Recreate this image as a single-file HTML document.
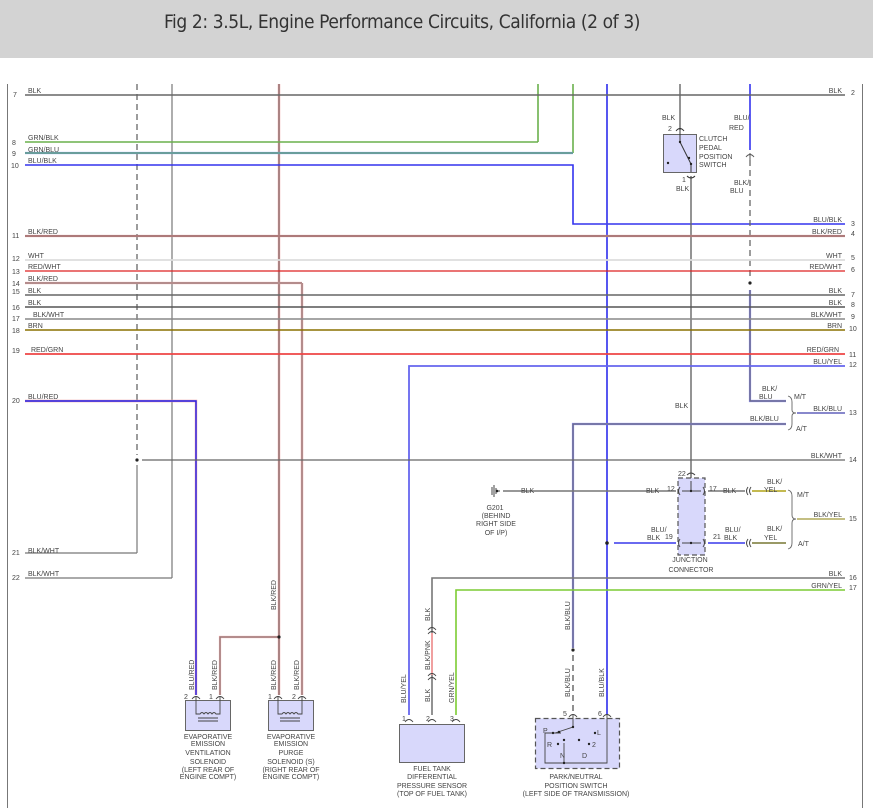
<!DOCTYPE html>
<html><head><meta charset="utf-8"><style>
html,body{margin:0;padding:0;background:#fff;}
#hd{position:absolute;left:0;top:0;width:873px;height:58px;background:#d3d3d3;}
#hd div{position:absolute;left:164px;top:11px;font:19px "DejaVu Sans Condensed","Liberation Sans Narrow","Liberation Sans",sans-serif;color:#333;letter-spacing:-0.4px;white-space:nowrap;}
svg{position:absolute;left:0;top:0;}
text{font-family:"Liberation Sans",sans-serif;font-size:7px;fill:#444;}
.n{font-size:7px;fill:#555;}
</style></head><body>
<div id="hd"><div>Fig 2: 3.5L, Engine Performance Circuits, California (2 of 3)</div></div>
<svg width="873" height="808" viewBox="0 0 873 808" fill="none">
<line x1="7.5" y1="84" x2="7.5" y2="808" stroke="#777"/>
<line x1="862.5" y1="84" x2="862.5" y2="808" stroke="#777"/>

<line x1="137" y1="84" x2="137" y2="455" stroke="#666" stroke-width="1.3" stroke-dasharray="6,4"/>
<line x1="137" y1="465" x2="137" y2="553" stroke="#777" stroke-width="1.2"/>
<circle cx="137" cy="460" r="1.6" fill="#222"/>
<line x1="172" y1="84" x2="172" y2="578" stroke="#777" stroke-width="1.2"/>
<line x1="279" y1="84" x2="279" y2="695" stroke="#f0a0a0" stroke-width="2.4"/>
<line x1="279" y1="84" x2="279" y2="695" stroke="#666" stroke-width="1"/>
<line x1="302" y1="283" x2="302" y2="695" stroke="#f0a0a0" stroke-width="2.4"/>
<line x1="302" y1="283" x2="302" y2="695" stroke="#777" stroke-width="1"/>
<line x1="538" y1="84" x2="538" y2="142" stroke="#6ab04c" stroke-width="1.6"/>
<line x1="573" y1="84" x2="573" y2="153" stroke="#6ab04c" stroke-width="1.6"/>
<polyline points="25,165 573,165 573,224 845,224" stroke="#3333ee" stroke-width="1.6"/>
<line x1="607" y1="84" x2="607" y2="715" stroke="#4444ee" stroke-width="1.8"/>
<line x1="680" y1="84" x2="680" y2="130" stroke="#666" stroke-width="1.4"/>
<line x1="691" y1="176" x2="691" y2="478" stroke="#666" stroke-width="1.4"/>
<line x1="750" y1="84" x2="750" y2="150" stroke="#3333ee" stroke-width="1.6"/>
<line x1="750" y1="160" x2="750" y2="280" stroke="#666" stroke-width="1.3" stroke-dasharray="6,4"/>
<circle cx="750" cy="283" r="1.6" fill="#222"/>
<polyline points="750,290 750,401 786,401" stroke="#8888ee" stroke-width="2.2"/>
<polyline points="750,290 750,401 786,401" stroke="#666" stroke-width="1"/>

<line x1="25" y1="95" x2="845" y2="95" stroke="#666" stroke-width="1.4"/>
<line x1="25" y1="142" x2="538" y2="142" stroke="#6ab04c" stroke-width="1.6"/>
<line x1="25" y1="153" x2="573" y2="153" stroke="#88a0ff" stroke-width="2.2"/>
<line x1="25" y1="153" x2="573" y2="153" stroke="#4a9a3a" stroke-width="1"/>
<line x1="25" y1="236" x2="845" y2="236" stroke="#e0a0a0" stroke-width="2.2"/>
<line x1="25" y1="236" x2="845" y2="236" stroke="#7a5555" stroke-width="1"/>
<line x1="25" y1="260" x2="845" y2="260" stroke="#dddddd" stroke-width="1.8"/>
<line x1="25" y1="271" x2="845" y2="271" stroke="#dd2222" stroke-width="1.3"/>
<line x1="25" y1="283" x2="302" y2="283" stroke="#f0a0a0" stroke-width="2.2"/>
<line x1="25" y1="283" x2="302" y2="283" stroke="#777" stroke-width="1"/>
<line x1="25" y1="295" x2="845" y2="295" stroke="#666" stroke-width="1.4"/>
<line x1="25" y1="307" x2="845" y2="307" stroke="#555" stroke-width="1.4"/>
<line x1="25" y1="319" x2="845" y2="319" stroke="#888" stroke-width="1.4"/>
<line x1="25" y1="330" x2="845" y2="330" stroke="#8a7000" stroke-width="1.6"/>
<line x1="25" y1="354" x2="845" y2="354" stroke="#ee4444" stroke-width="1.8"/>
<polyline points="409,715 409,366 845,366" stroke="#6666ee" stroke-width="1.8"/>
<polyline points="25,401 196,401 196,695" stroke="#f0a0a0" stroke-width="2.4"/>
<polyline points="25,401 196,401 196,695" stroke="#2222ee" stroke-width="1.4"/>
<polyline points="573,648 573,424 786,424" stroke="#8888ee" stroke-width="2.2"/>
<polyline points="573,648 573,424 786,424" stroke="#666" stroke-width="1"/>
<line x1="573" y1="655" x2="573" y2="712" stroke="#555" stroke-width="1.3" stroke-dasharray="6,4"/>
<circle cx="573" cy="650" r="1.6" fill="#222"/>
<line x1="142" y1="460" x2="845" y2="460" stroke="#666" stroke-width="1.2"/>
<line x1="25" y1="553" x2="137" y2="553" stroke="#777" stroke-width="1.2"/>
<line x1="25" y1="578" x2="172" y2="578" stroke="#777" stroke-width="1.2"/>
<polyline points="220,695 220,637 279,637" stroke="#f0a0a0" stroke-width="2.2"/>
<polyline points="220,695 220,637 279,637" stroke="#777" stroke-width="1"/>
<circle cx="279" cy="637" r="1.6" fill="#222"/>
<polyline points="432,715 432,578 845,578" stroke="#777" stroke-width="1.6"/>
<line x1="432" y1="633" x2="432" y2="675" stroke="#f0a0a0" stroke-width="2"/>
<polyline points="456,715 456,590 845,590" stroke="#7ccc33" stroke-width="1.6"/>
<line x1="797" y1="413" x2="845" y2="413" stroke="#8888cc" stroke-width="2"/>
<line x1="797" y1="519" x2="845" y2="519" stroke="#e8e080" stroke-width="2"/>
<line x1="797" y1="519" x2="845" y2="519" stroke="#888" stroke-width="0.8"/>

<g stroke="#444" stroke-width="1"><line x1="492" y1="487" x2="492" y2="495"/><line x1="494" y1="485" x2="494" y2="497"/><line x1="496" y1="488" x2="496" y2="494"/><line x1="496" y1="491" x2="500" y2="491"/></g>
<circle cx="497" cy="491" r="1.3" fill="#222"/>
<line x1="503" y1="491" x2="676" y2="491" stroke="#777" stroke-width="1.6"/>
<line x1="614" y1="543" x2="676" y2="543" stroke="#5555ee" stroke-width="1.8"/>
<circle cx="607" cy="543" r="1.8" fill="#222"/>
<rect x="678" y="478" width="27" height="77" fill="#d8d8fb" stroke="#555" stroke-width="1.2" stroke-dasharray="5,3"/>
<g stroke="#444" stroke-width="1">
<line x1="682" y1="491" x2="701" y2="491"/><line x1="691" y1="481" x2="691" y2="491"/>
<line x1="682" y1="543" x2="701" y2="543"/>
<path d="M680,487 Q677,491 680,495 M703,487 Q706,491 703,495 M680,539 Q677,543 680,547 M703,539 Q706,543 703,547 M687,475 Q691,471 695,475"/>
<path d="M748,487 Q745,491 748,495 M751,487 Q748,491 751,495 M748,539 Q745,543 748,547 M751,539 Q748,543 751,547"/>
</g>
<circle cx="691" cy="491" r="1.2" fill="#222"/><circle cx="691" cy="543" r="1.2" fill="#222"/>
<line x1="708" y1="491" x2="745" y2="491" stroke="#777" stroke-width="1.6"/>
<line x1="708" y1="543" x2="745" y2="543" stroke="#5555ee" stroke-width="1.8"/>
<line x1="752" y1="491" x2="786" y2="491" stroke="#e8d830" stroke-width="2"/>
<line x1="752" y1="491" x2="786" y2="491" stroke="#888" stroke-width="0.7"/>
<line x1="752" y1="543" x2="786" y2="543" stroke="#999966" stroke-width="2"/>
<path d="M788,396 Q792,397 792,402 L792,410 Q792,413 796,413 Q792,413 792,416 L792,424 Q792,429 788,430" stroke="#666" stroke-width="0.9"/>
<path d="M788,490 Q792,491 792,496 L792,515 Q792,519 796,519 Q792,519 792,523 L792,543 Q792,548 788,549" stroke="#666" stroke-width="0.9"/>

<rect x="663.5" y="134.5" width="33" height="38" fill="#d8d8fb" stroke="#666"/>
<g stroke="#333" stroke-width="1"><path d="M676,131 Q680,126 684,131"/><line x1="680" y1="128" x2="680" y2="142"/><line x1="680" y1="142" x2="691" y2="164"/><line x1="691" y1="164" x2="691" y2="172"/><path d="M687,176 Q691,180 695,176"/></g>
<circle cx="680" cy="142" r="1.2" fill="#222"/><circle cx="689" cy="158" r="1.2" fill="#222"/><circle cx="691" cy="164" r="1.2" fill="#222"/><circle cx="668" cy="163" r="1.2" fill="#222"/>
<path d="M746,157 Q750,152 754,157" stroke="#555"/><line x1="750" y1="153" x2="750" y2="160" stroke="#555"/>

<rect x="185.5" y="700.5" width="45" height="30" fill="#d8d8fb" stroke="#666"/>
<rect x="268.5" y="700.5" width="45" height="30" fill="#d8d8fb" stroke="#666"/>
<g stroke="#444" stroke-width="0.9">
<path d="M192,699 Q196,694 200,699 M216,699 Q220,694 224,699 M274,699 Q278,694 282,699 M298,699 Q302,694 306,699"/>
<path d="M196,697 L196,714 L200,714 q2,-3 4,0 q2,-3 4,0 q2,-3 4,0 q2,-3 4,0 L220,714 L220,697"/>
<path d="M198,718 H218 M198,721 H218"/>
<path d="M278,697 L278,714 L282,714 q2,-3 4,0 q2,-3 4,0 q2,-3 4,0 q2,-3 4,0 L302,714 L302,697"/>
<path d="M280,718 H300 M280,721 H300"/>
</g>
<rect x="399.5" y="724.5" width="65" height="38" fill="#d8d8fb" stroke="#666"/>
<g stroke="#444" stroke-width="0.9"><path d="M405,722 Q409,717 413,722 M428,722 Q432,717 436,722 M452,722 Q456,717 460,722 M428,630 Q432,625 436,630 M428,634 Q432,629 436,634 M428,676 Q432,671 436,676 M428,680 Q432,675 436,680"/></g>
<rect x="535.5" y="718.5" width="84" height="50" fill="#d8d8fb" stroke="#555" stroke-width="1.2" stroke-dasharray="5,3"/>
<g stroke="#444" stroke-width="0.9"><path d="M569,717 Q573,712 577,717 M603,717 Q607,712 611,717"/>
<polyline points="573,715 573,727 555,733 561,733"/><polyline points="561,733 545,733 545,763 607,763 607,715"/><line x1="564" y1="743" x2="564" y2="763"/></g>
<g fill="#222"><circle cx="553" cy="733" r="1.2"/><circle cx="559" cy="732" r="1.2"/><circle cx="573" cy="727" r="1.2"/><circle cx="595" cy="733" r="1.2"/><circle cx="558" cy="744" r="1.2"/><circle cx="589" cy="744" r="1.2"/><circle cx="564" cy="740" r="1.2"/><circle cx="579" cy="740" r="1.2"/><circle cx="564" cy="763" r="1.2"/></g>

<g class="n"><text x="13" y="97">7</text><text x="12" y="145">8</text><text x="12" y="156">9</text><text x="11" y="168">10</text><text x="12" y="238">11</text><text x="12" y="261">12</text><text x="12" y="274">13</text><text x="12" y="286">14</text><text x="12" y="294">15</text><text x="12" y="310">16</text><text x="12" y="321">17</text><text x="12" y="333">18</text><text x="12" y="353">19</text><text x="12" y="403">20</text><text x="12" y="555">21</text><text x="12" y="580">22</text></g>
<text x="28" y="93">BLK</text><text x="28" y="140">GRN/BLK</text><text x="28" y="152">GRN/BLU</text><text x="28" y="163">BLU/BLK</text><text x="28" y="234">BLK/RED</text><text x="28" y="258">WHT</text><text x="28" y="269">RED/WHT</text><text x="28" y="281">BLK/RED</text><text x="28" y="293">BLK</text><text x="28" y="305">BLK</text><text x="33" y="317">BLK/WHT</text><text x="28" y="328">BRN</text><text x="31" y="352">RED/GRN</text><text x="28" y="399">BLU/RED</text><text x="28" y="553">BLK/WHT</text><text x="28" y="576">BLK/WHT</text>
<g class="n"><text x="851" y="95">2</text><text x="851" y="226">3</text><text x="851" y="236">4</text><text x="851" y="260">5</text><text x="851" y="272">6</text><text x="851" y="297">7</text><text x="851" y="307">8</text><text x="851" y="319">9</text><text x="849" y="331">10</text><text x="849" y="357">11</text><text x="849" y="367">12</text><text x="849" y="415">13</text><text x="849" y="462">14</text><text x="849" y="521">15</text><text x="849" y="580">16</text><text x="849" y="590">17</text></g>
<g text-anchor="end"><text x="842" y="93">BLK</text><text x="842" y="222">BLU/BLK</text><text x="842" y="234">BLK/RED</text><text x="842" y="258">WHT</text><text x="842" y="269">RED/WHT</text><text x="842" y="293">BLK</text><text x="842" y="305">BLK</text><text x="842" y="317">BLK/WHT</text><text x="842" y="328">BRN</text><text x="839" y="352">RED/GRN</text><text x="842" y="364">BLU/YEL</text><text x="842" y="411">BLK/BLU</text><text x="842" y="458">BLK/WHT</text><text x="842" y="517">BLK/YEL</text><text x="842" y="576">BLK</text><text x="842" y="588">GRN/YEL</text></g>
<text x="662" y="120">BLK</text><text x="668" y="131">2</text>
<text x="699" y="141">CLUTCH</text><text x="699" y="150">PEDAL</text><text x="699" y="159">POSITION</text><text x="699" y="167">SWITCH</text>
<text x="682" y="182">1</text><text x="676" y="191">BLK</text>
<text x="734" y="120">BLU/</text><text x="729" y="130">RED</text>
<text x="734" y="185">BLK/</text><text x="730" y="193">BLU</text>
<text x="762" y="391">BLK/</text><text x="759" y="399">BLU</text><text x="794" y="399">M/T</text>
<text x="750" y="421">BLK/BLU</text><text x="796" y="431">A/T</text>
<text x="675" y="408">BLK</text>
<text x="521" y="493">BLK</text><text x="646" y="493">BLK</text><text x="667" y="491">12</text><text x="678" y="476">22</text>
<text x="709" y="491">17</text><text x="723" y="493">BLK</text>
<text x="767" y="484">BLK/</text><text x="764" y="492">YEL</text><text x="797" y="497">M/T</text>
<text x="651" y="532">BLU/</text><text x="647" y="540">BLK</text><text x="665" y="539">19</text>
<text x="713" y="539">21</text><text x="725" y="532">BLU/</text><text x="724" y="540">BLK</text>
<text x="767" y="531">BLK/</text><text x="764" y="540">YEL</text><text x="798" y="546">A/T</text>
<g text-anchor="middle"><text x="495" y="510">G201</text><text x="496" y="518">(BEHIND</text><text x="496" y="526">RIGHT SIDE</text><text x="496" y="535">OF I/P)</text>
<text x="690" y="562">JUNCTION</text><text x="691" y="572">CONNECTOR</text>
<text x="208" y="739">EVAPORATIVE</text><text x="208" y="746">EMISSION</text><text x="208" y="755">VENTILATION</text><text x="208" y="764">SOLENOID</text><text x="208" y="772">(LEFT REAR OF</text><text x="208" y="779">ENGINE COMPT)</text>
<text x="291" y="739">EVAPORATIVE</text><text x="291" y="746">EMISSION</text><text x="291" y="755">PURGE</text><text x="291" y="764">SOLENOID (S)</text><text x="291" y="772">(RIGHT REAR OF</text><text x="291" y="779">ENGINE COMPT)</text>
<text x="432" y="771">FUEL TANK</text><text x="432" y="779">DIFFERENTIAL</text><text x="432" y="788">PRESSURE SENSOR</text><text x="432" y="796">(TOP OF FUEL TANK)</text>
<text x="576" y="779">PARK/NEUTRAL</text><text x="576" y="788">POSITION SWITCH</text><text x="576" y="796">(LEFT SIDE OF TRANSMISSION)</text></g>
<g class="n"><text x="184" y="699">2</text><text x="209" y="699">1</text><text x="268" y="699">1</text><text x="292" y="699">2</text><text x="402" y="721">1</text><text x="426" y="721">2</text><text x="450" y="721">3</text><text x="563" y="716">5</text><text x="598" y="716">6</text></g>
<text x="543" y="733">P</text><text x="547" y="747">R</text><text x="560" y="758">N</text><text x="582" y="758">D</text><text x="597" y="735">L</text><text x="592" y="747">2</text>
<g>
<text transform="translate(194,690) rotate(-90)">BLU/RED</text>
<text transform="translate(217,690) rotate(-90)">BLK/RED</text>
<text transform="translate(276,690) rotate(-90)">BLK/RED</text>
<text transform="translate(299,690) rotate(-90)">BLK/RED</text>
<text transform="translate(276,610) rotate(-90)">BLK/RED</text>
<text transform="translate(406,703) rotate(-90)">BLU/YEL</text>
<text transform="translate(430,702) rotate(-90)">BLK</text>
<text transform="translate(430,670) rotate(-90)">BLK/PNK</text>
<text transform="translate(430,621) rotate(-90)">BLK</text>
<text transform="translate(454,703) rotate(-90)">GRN/YEL</text>
<text transform="translate(570,697) rotate(-90)">BLK/BLU</text>
<text transform="translate(570,630) rotate(-90)">BLK/BLU</text>
<text transform="translate(604,697) rotate(-90)">BLU/BLK</text>
</g>
</svg>
</body></html>
